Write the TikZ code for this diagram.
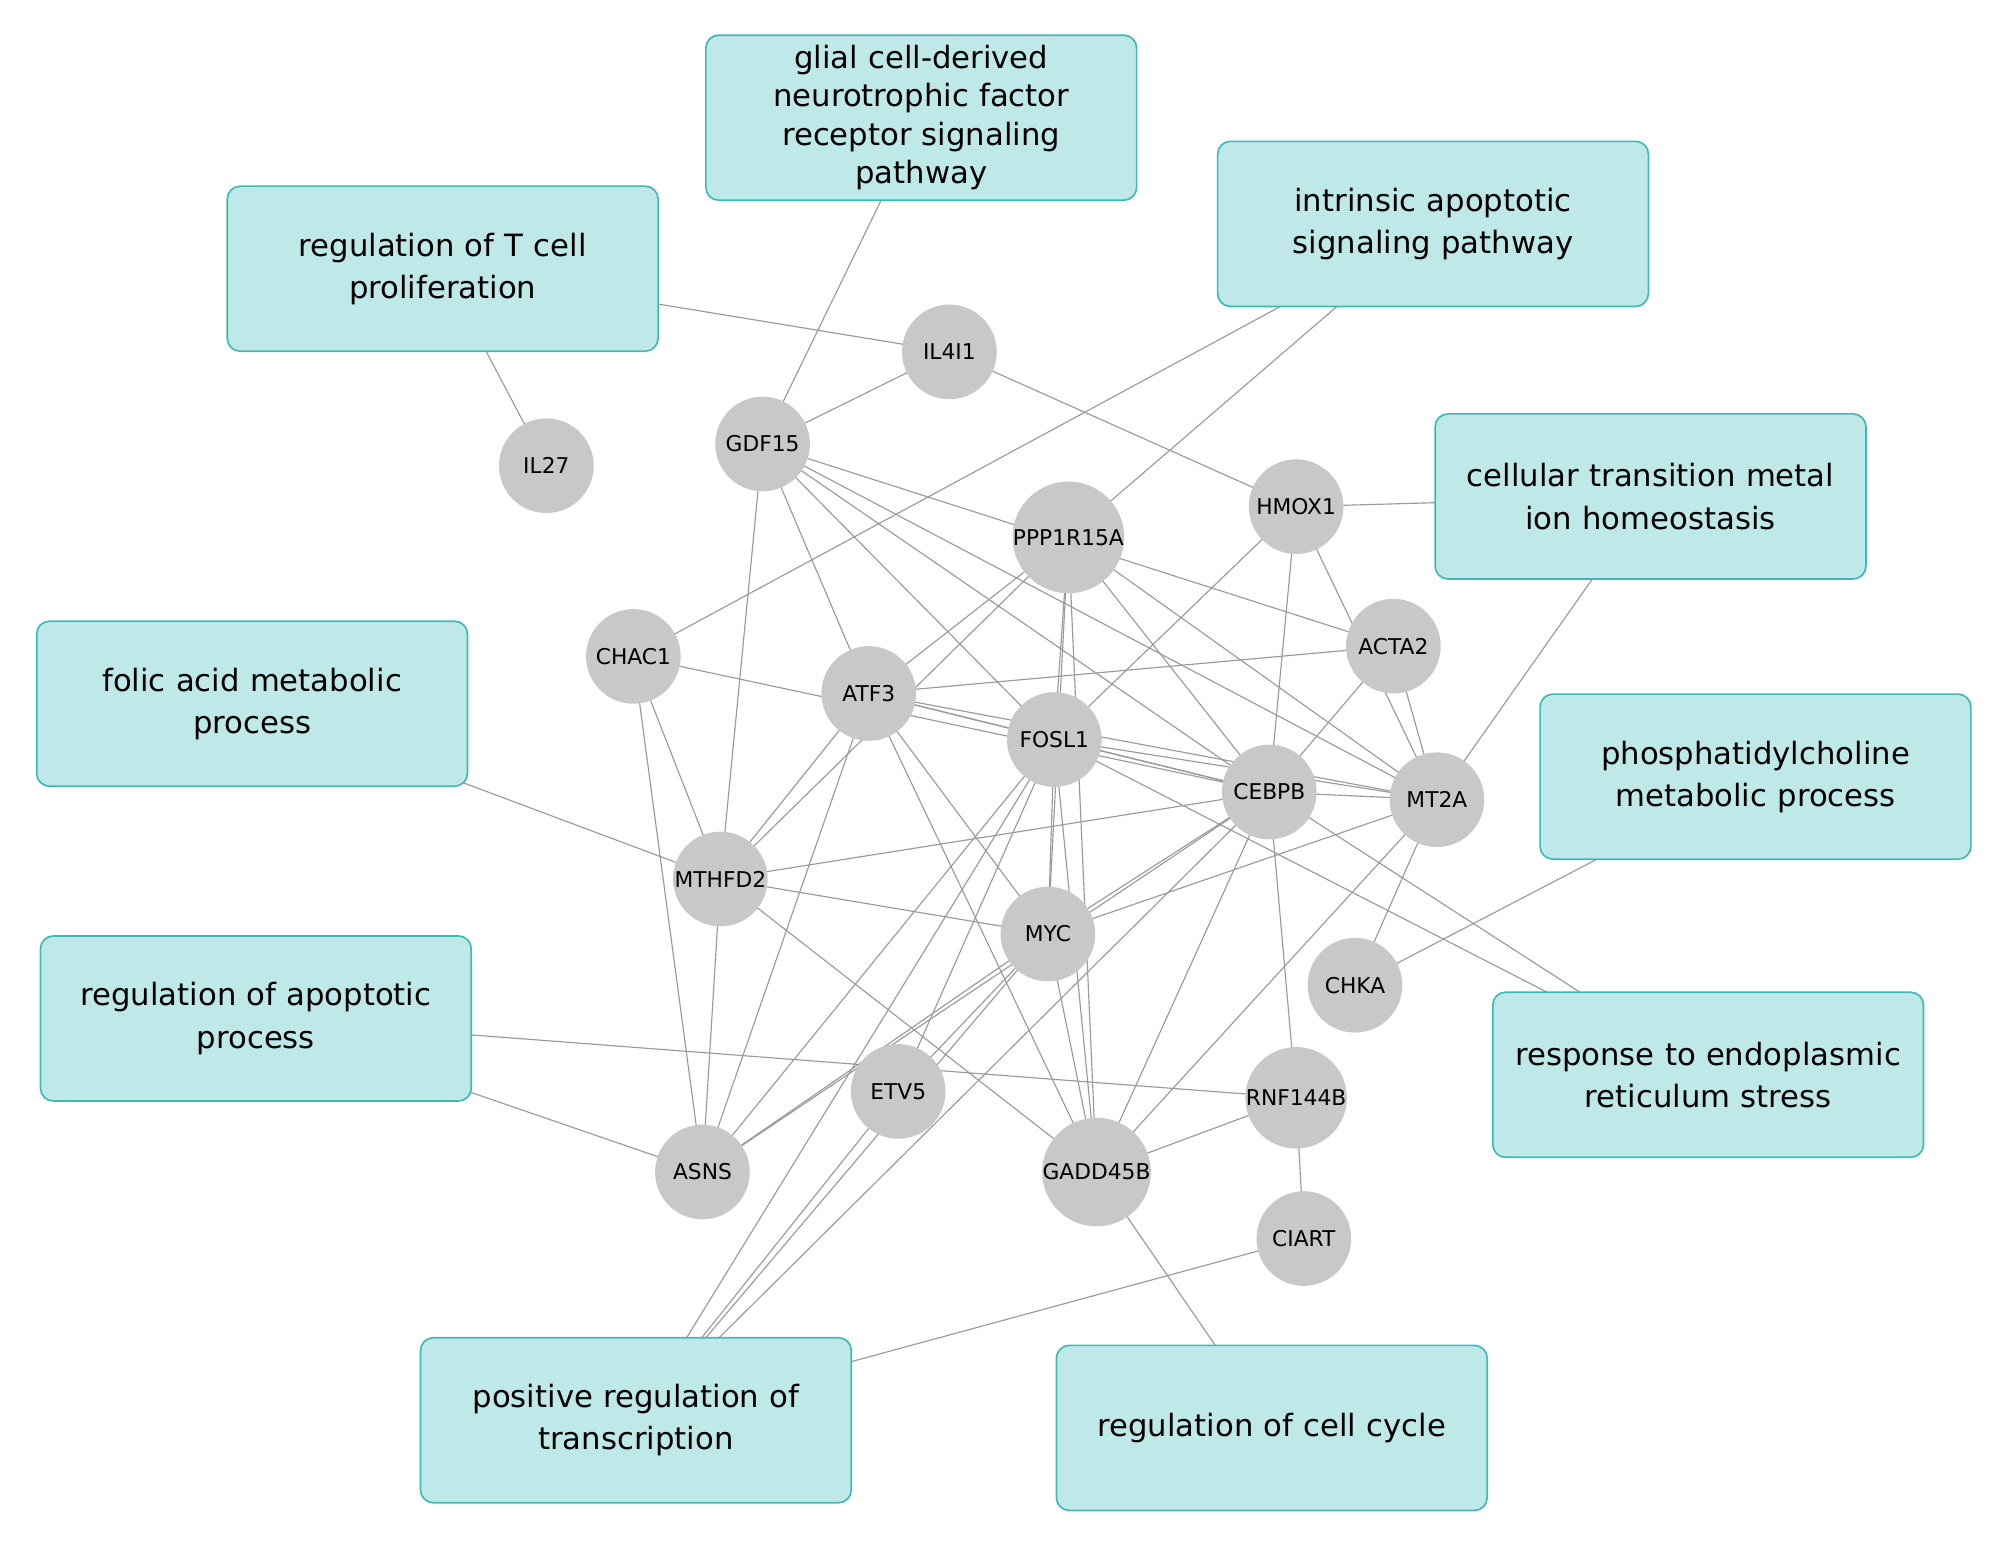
\documentclass[tikz,border=0pt]{standalone}
\usepackage{fontspec}
\setmainfont{DejaVu Sans}
\definecolor{boxfill}{HTML}{BFE9E8}
\definecolor{boxdraw}{HTML}{3FB8B6}
\definecolor{gnode}{HTML}{C8C8C8}
\definecolor{edge}{HTML}{9A9A9A}
\begin{document}
\begin{tikzpicture}[x=1pt,y=-1pt,
 g/.style={circle,fill=gnode,minimum size=74pt,inner sep=0pt,font=\fontsize{17}{19}\selectfont},
 b/.style={rectangle,rounded corners=10pt,fill=boxfill,draw=boxdraw,line width=1.3pt,minimum width=335pt,minimum height=129pt,align=center,text width=330pt,font=\fontsize{24}{33}\selectfont},
 e/.style={draw=edge,line width=0.9pt}]
\useasboundingbox (0,0) rectangle (1560,1204);
\begin{scope}[on background layer/.style={}]
\end{scope}
% boxes positions
\coordinate (pglial) at (720,92);
\path
 (720,92) coordinate (cglial) (346,210) coordinate (ctcell) (1120,175) coordinate (cintr)
 (1290,388) coordinate (ccell) (197,550) coordinate (cfolic) (1372,607) coordinate (cphos)
 (200,796) coordinate (capop) (1335,840) coordinate (cresp) (497,1110) coordinate (cpos)
 (994,1116) coordinate (ccyc);
% gene coords
\path (742,275) coordinate (IL4I1) (596,347) coordinate (GDF15) (427,364) coordinate (IL27)
 (835,420) coordinate (PPP) (1013,396) coordinate (HMOX1) (495,513) coordinate (CHAC1)
 (679,542) coordinate (ATF3) (824,578) coordinate (FOSL1) (1089,505) coordinate (ACTA2)
 (992,619) coordinate (CEBPB) (1123,625) coordinate (MT2A) (563,687) coordinate (MTHFD2)
 (819,730) coordinate (MYC) (1059,770) coordinate (CHKA) (702,853) coordinate (ETV5)
 (1013,858) coordinate (RNF144B) (549,916) coordinate (ASNS) (857,916) coordinate (GADD45B)
 (1019,968) coordinate (CIART);
% edges
\foreach \a/\b in {ctcell/IL4I1,ctcell/IL27,cglial/GDF15,GDF15/IL4I1,IL4I1/HMOX1,cintr/CHAC1,cintr/PPP,HMOX1/ccell,ccell/MT2A,cfolic/MTHFD2,cphos/CHKA,capop/ASNS,capop/RNF144B,cresp/FOSL1,cresp/CEBPB,cpos/ETV5,cpos/MYC,cpos/FOSL1,cpos/CEBPB,cpos/CIART,ccyc/GADD45B,
 HMOX1/FOSL1,HMOX1/CEBPB,HMOX1/MT2A,GDF15/ACTA2,GDF15/ATF3,GDF15/MTHFD2,GDF15/CEBPB,GDF15/MT2A,GDF15/FOSL1,
 PPP/ATF3,PPP/MTHFD2,PPP/FOSL1,PPP/MYC,PPP/CEBPB,PPP/MT2A,PPP/GADD45B,
 CHAC1/CEBPB,CHAC1/MTHFD2,CHAC1/ASNS,ATF3/ACTA2,ATF3/CEBPB,ATF3/FOSL1,ATF3/MT2A,ATF3/MTHFD2,ATF3/ASNS,ATF3/MYC,ATF3/GADD45B,
 FOSL1/CEBPB,FOSL1/MT2A,FOSL1/MYC,FOSL1/GADD45B,FOSL1/ETV5,FOSL1/ASNS,
 CEBPB/ACTA2,CEBPB/MTHFD2,CEBPB/MYC,CEBPB/ASNS,CEBPB/GADD45B,CEBPB/RNF144B,CEBPB/MT2A,
 MT2A/ACTA2,MT2A/MYC,MT2A/CHKA,MT2A/GADD45B,MTHFD2/MYC,MTHFD2/ASNS,MTHFD2/GADD45B,
 MYC/GADD45B,MYC/ASNS,MYC/ETV5,RNF144B/GADD45B,RNF144B/CIART}
 \draw[e] (\a) -- (\b);
% boxes
\node[b] (glial) at (cglial) {glial cell-derived\\[-3pt]neurotrophic factor\\[-3pt]receptor signaling\\[-3pt]pathway};
\node[b] (tcell) at (ctcell) {regulation of T cell\\proliferation};
\node[b] (intr) at (cintr) {intrinsic apoptotic\\signaling pathway};
\node[b] (cell) at (ccell) {cellular transition metal\\ion homeostasis};
\node[b] (folic) at (cfolic) {folic acid metabolic\\process};
\node[b] (phos) at (cphos) {phosphatidylcholine\\metabolic process};
\node[b] (apop) at (capop) {regulation of apoptotic\\process};
\node[b] (resp) at (cresp) {response to endoplasmic\\reticulum stress};
\node[b] (pos) at (cpos) {positive regulation of\\transcription};
\node[b] (cyc) at (ccyc) {regulation of cell cycle};
% genes
\foreach \n/\t in {IL4I1/IL4I1,GDF15/GDF15,IL27/IL27,PPP/PPP1R15A,HMOX1/HMOX1,CHAC1/CHAC1,ATF3/ATF3,FOSL1/FOSL1,ACTA2/ACTA2,CEBPB/CEBPB,MT2A/MT2A,MTHFD2/MTHFD2,MYC/MYC,CHKA/CHKA,ETV5/ETV5,RNF144B/RNF144B,ASNS/ASNS,GADD45B/GADD45B,CIART/CIART}
 \node[g] (n\n) at (\n) {\t};
\end{tikzpicture}
\end{document}
